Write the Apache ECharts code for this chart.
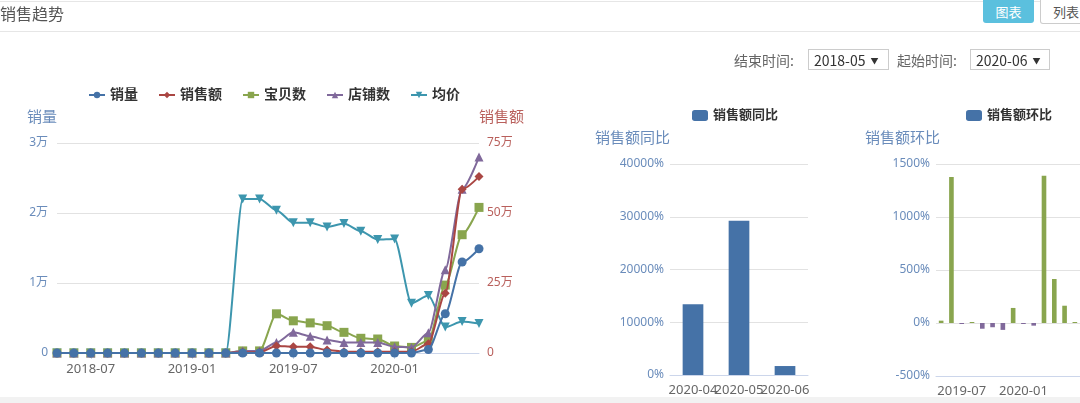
<!DOCTYPE html>
<html>
<head>
    <meta charset="utf-8">
    <title>销售趋势</title>
    <script src="https://cdn.jsdelivr.net/npm/echarts@6/dist/echarts.min.js"></script>
    <style>
        body { margin: 0; background: #fff; font-family: "Noto Sans CJK SC", sans-serif; }
        #wrap { position: relative; width: 1080px; height: 403px; overflow: hidden; }
        #chart { position: absolute; left: 0; top: 0; width: 1080px; height: 403px; }
        .topline { position: absolute; left: 0; right: 0; top: 1px; border-top: 1px solid #e6e6e6; }
        .headline { position: absolute; left: 0; right: 0; top: 31px; border-top: 1px solid #e6e6e6; }
        .footline { position: absolute; left: 0; right: 0; top: 397px; height: 6px; background: #f2f2f2; }
        .title { position: absolute; left: 0; top: 1px; font-size: 16px; color: #555; }
        .btn { position: absolute; top: 0; height: 23px; line-height: 23px; font-size: 13px; text-align: center; border-radius: 0 0 3px 3px; }
        .btn.on { left: 983px; width: 51px; background: #5bc0de; color: #fff; }
        .btn.off { left: 1040px; width: 50px; border: 1px solid #ccc; border-top: none; color: #555; background: #fff; }
        .lab { position: absolute; top: 50px; font-size: 14px; color: #666; }
        .sel { position: absolute; top: 49px; height: 21px; line-height: 21px; border: 1px solid #ccc; font-size: 14px; color: #333; padding-left: 5px; box-sizing: border-box; }
        .sel span { font-size: 8px; margin-left: 5px; vertical-align: 2px; }
    </style>
</head>
<body>
<div id="wrap">
    <div id="chart"></div>
    <div class="topline"></div>
    <div class="title">销售趋势</div>
    <div class="headline"></div>
    <div class="btn on">图表</div>
    <div class="btn off">列表</div>
    <div class="lab" style="left:734px;">结束时间:</div>
    <div class="sel" style="left:808px;width:81px;">2018-05<span>▼</span></div>
    <div class="lab" style="left:897px;">起始时间:</div>
    <div class="sel" style="left:970px;width:80px;">2020-06<span>▼</span></div>
    <div class="footline"></div>
</div>
<script type="text/javascript">
    // 月份
    var months = ['2018-05', '2018-06', '2018-07', '2018-08', '2018-09', '2018-10', '2018-11', '2018-12',
        '2019-01', '2019-02', '2019-03', '2019-04', '2019-05', '2019-06', '2019-07', '2019-08', '2019-09',
        '2019-10', '2019-11', '2019-12', '2020-01', '2020-02', '2020-03', '2020-04', '2020-05', '2020-06'];
    // 销量
    var salesVolume = [0, 0, 0, 0, 0, 0, 0, 0, 0, 0, 0, 0, 0, 0, 0, 0, 0, 0, 0, 0, 0, 0, 500, 5600, 13000, 14900];
    // 销售额
    var salesAmount = [0, 0, 0, 0, 0, 0, 0, 0, 0, 0, 0, 3000, 3000, 25000, 22500, 22500, 10700, 4600, 4600,
        4600, 4600, 4600, 33000, 213000, 585000, 630000];
    // 宝贝数
    var itemCount = [0, 0, 0, 0, 0, 0, 0, 0, 0, 0, 0, 300, 300, 5600, 4600, 4300, 3900, 2950, 2100, 2000,
        1000, 800, 1750, 9700, 16900, 20800];
    // 店铺数
    var shopCount = [0, 0, 0, 0, 0, 0, 0, 0, 0, 0, 0, 300, 300, 1500, 2950, 2400, 1850, 1500, 1500, 1500,
        900, 800, 2900, 11900, 23400, 28000];
    // 均价
    var avgPrice = [0, 0, 0, 0, 0, 0, 0, 0, 0, 0, 0, 22000, 22000, 20400, 18600, 18600, 18000, 18500, 17400,
        16200, 16300, 7100, 8200, 3700, 4500, 4200];

    // 销售额同比
    var yoyMonths = ['2020-04', '2020-05', '2020-06'];
    var yoyValues = [13400, 29250, 1700];

    // 销售额环比
    var momMonths = ['2019-05', '2019-06', '2019-07', '2019-08', '2019-09', '2019-10', '2019-11',
        '2019-12', '2020-01', '2020-02', '2020-03', '2020-04', '2020-05', '2020-06'];
    var momValues = [22, 1377, -8, 3, -54, -40, -65, 142, -2, -25, 1390, 415, 163, 8];

    var blue = '#4572a7', red = '#aa4643', green = '#89a54e', purple = '#80699b', teal = '#3d96ae';
    var blueText = '#6a8cbb', redText = '#b9605c';
    var font = 'Noto Sans, Noto Sans CJK SC';

    // 只显示 01 和 07 月份
    function halfYear(index, value) {
        return /-(01|07)$/.test(value);
    }

    function wan(v) {
        return v === 0 ? '0' : (v / 10000) + '万';
    }

    function pct(v) {
        return v + '%';
    }

    function lineSeries(name, data, color, symbol, yIndex, extra) {
        var s = {
            name: name,
            type: 'line',
            data: data,
            xAxisIndex: 0,
            yAxisIndex: yIndex,
            symbol: symbol,
            symbolSize: 9,
            smooth: 0.25,
            smoothMonotone: 'x',
            itemStyle: {color: color},
            lineStyle: {width: 2, color: color}
        };
        for (var k in extra) s[k] = extra[k];
        return s;
    }

    var myChart = echarts.init(document.getElementById('chart'));

    myChart.setOption({
        animation: false,
        textStyle: {fontFamily: font},
        legend: [
            {
                data: ['销量', '销售额', '宝贝数', '店铺数', '均价'],
                left: 88, top: 88, padding: 0,
                itemWidth: 16, itemHeight: 8, itemGap: 20,
                textStyle: {fontSize: 14, fontWeight: 'bold', color: '#333', fontFamily: font}
            },
            {
                data: ['销售额同比'],
                left: 692, top: 109, padding: 0,
                itemWidth: 16, itemHeight: 11,
                textStyle: {fontSize: 13, fontWeight: 'bold', color: '#333', fontFamily: font}
            },
            {
                data: ['销售额环比'],
                left: 966, top: 109, padding: 0,
                itemWidth: 16, itemHeight: 11,
                textStyle: {fontSize: 13, fontWeight: 'bold', color: '#333', fontFamily: font}
            }
        ],
        grid: [
            {left: 57, top: 143, width: 422, height: 210},
            {left: 670, top: 164, width: 138, height: 211},
            {left: 936, top: 164, width: 150, height: 212}
        ],
        xAxis: [
            {
                type: 'category', gridIndex: 0, data: months, boundaryGap: false,
                axisLine: {lineStyle: {color: '#ccd6eb'}},
                axisTick: {interval: halfYear, length: 6, lineStyle: {color: '#ccd6eb'}},
                axisLabel: {interval: halfYear, color: '#666', fontSize: 13, margin: 10}
            },
            {
                type: 'category', gridIndex: 1, data: yoyMonths,
                axisLine: {lineStyle: {color: '#ccd6eb'}},
                axisTick: {alignWithLabel: true, length: 6, lineStyle: {color: '#ccd6eb'}},
                axisLabel: {interval: 0, color: '#666', fontSize: 13, margin: 9}
            },
            {
                type: 'category', gridIndex: 2, data: momMonths,
                axisLine: {onZero: false, lineStyle: {color: '#ccd6eb'}},
                axisTick: {interval: halfYear, alignWithLabel: true, length: 8, lineStyle: {color: '#ccd6eb'}},
                axisLabel: {interval: halfYear, color: '#666', fontSize: 13, margin: 9}
            }
        ],
        yAxis: [
            {
                type: 'value', gridIndex: 0, min: 0, max: 30000, interval: 10000,
                name: '销量', nameGap: 18,
                nameTextStyle: {color: blueText, fontSize: 15, align: 'right'},
                axisLine: {show: false}, axisTick: {show: false},
                axisLabel: {formatter: wan, color: blueText, fontSize: 12, margin: 9},
                splitLine: {lineStyle: {color: '#e2e2e2'}}
            },
            {
                type: 'value', gridIndex: 0, min: 0, max: 750000, interval: 250000, position: 'right',
                name: '销售额', nameGap: 18,
                nameTextStyle: {color: redText, fontSize: 15, align: 'left'},
                axisLine: {show: false}, axisTick: {show: false},
                axisLabel: {formatter: wan, color: redText, fontSize: 12, margin: 8},
                splitLine: {show: false}
            },
            {
                type: 'value', gridIndex: 1, min: 0, max: 40000, interval: 10000,
                name: '销售额同比', nameGap: 18,
                nameTextStyle: {color: blueText, fontSize: 15, align: 'right'},
                axisLine: {show: false}, axisTick: {show: false},
                axisLabel: {formatter: pct, color: blueText, fontSize: 12, margin: 6},
                splitLine: {lineStyle: {color: '#e2e2e2'}}
            },
            {
                type: 'value', gridIndex: 2, min: -500, max: 1500, interval: 500,
                name: '销售额环比', nameGap: 18,
                nameTextStyle: {color: blueText, fontSize: 15, align: 'right', padding: [0, -4, 0, 0]},
                axisLine: {show: false}, axisTick: {show: false},
                axisLabel: {formatter: pct, color: blueText, fontSize: 12, margin: 6},
                splitLine: {lineStyle: {color: '#e2e2e2'}}
            }
        ],
        series: [
            lineSeries('销量', salesVolume, blue, 'circle', 0, {z: 6}),
            lineSeries('销售额', salesAmount, red, 'diamond', 1, {z: 5}),
            lineSeries('宝贝数', itemCount, green, 'rect', 0, {z: 3}),
            lineSeries('店铺数', shopCount, purple, 'triangle', 0, {z: 4}),
            lineSeries('均价', avgPrice, teal, 'triangle', 0, {symbolRotate: 180, z: 2}),
            {
                name: '销售额同比', type: 'bar', xAxisIndex: 1, yAxisIndex: 2,
                data: yoyValues, barWidth: '45%',
                itemStyle: {color: blue}
            },
            {
                name: '销售额环比', type: 'bar', xAxisIndex: 2, yAxisIndex: 3,
                barWidth: '45%', barMinHeight: 1,
                itemStyle: {color: blue},
                data: momValues.map(function (v) {
                    return {value: v, itemStyle: {color: v >= 0 ? green : purple}};
                })
            }
        ]
    });
</script>
</html>
